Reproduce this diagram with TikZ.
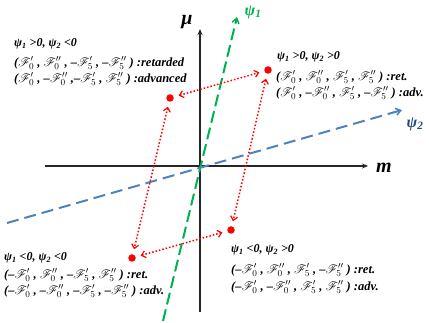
\documentclass[tikz,border=0pt]{standalone}
\usepackage{fontspec}
\setmainfont{Liberation Serif}
\usepackage{mathrsfs}
\usetikzlibrary{arrows.meta}
\definecolor{psigreen}{HTML}{00B050}
\definecolor{psiblue}{HTML}{4F81BD}
\definecolor{psidark}{HTML}{1F497D}
\newcommand\SF[2]{$\mathscr{F}^{#2}_{#1}$}
\tikzset{
  axisline/.style={line width=1.1pt, draw=black!85, -{Stealth[length=6pt,width=5pt]}},
  greenline/.style={line width=2pt, draw=psigreen, dash pattern=on 12pt off 5pt, -{Straight Barb[length=5pt,width=7pt,line width=1.5pt]}},
  blueline/.style={line width=2pt, draw=psiblue, dash pattern=on 12pt off 6pt, -{Straight Barb[length=5pt,width=7pt,line width=1.5pt]}},
  reddot/.style={circle, fill=red, inner sep=0pt, minimum size=7.5pt},
  redarrow/.style={line width=1.5pt, draw=red, dotted, {Straight Barb[length=4pt,width=7pt,line width=1.2pt]}-{Straight Barb[length=4pt,width=7pt,line width=1.2pt]}, shorten <=5pt, shorten >=5pt},
  txt/.style={anchor=west, inner sep=0pt, font=\fontsize{12.5}{14}\selectfont\bfseries\itshape},
  ttl/.style={anchor=west, inner sep=0pt, font=\fontsize{12}{14}\selectfont\bfseries\itshape},
}
\begin{document}
\begin{tikzpicture}[x=1pt,y=-1pt]
\useasboundingbox (0,0) rectangle (429,323);
% axes
\coordinate (xs) at (45,166);
\coordinate (xe) at (368,166);
\coordinate (ys) at (200,312);
\coordinate (ye) at (200,29);
\draw[axisline] (xs) -- (xe);
\draw[axisline] (ys) -- (ye);
\node[font=\fontsize{20}{22}\selectfont\bfseries\itshape] (mlab) at (384,168) {m};
\node[font=\fontsize{20}{22}\selectfont\bfseries\itshape] (mulab) at (187,22) {μ};
% psi lines
\coordinate (gs) at (163,321);
\coordinate (ge) at (237,17);
\draw[greenline] (gs) -- (ge);
\node[font=\fontsize{16}{18}\selectfont\bfseries\itshape, text=psigreen] (p1lab) at (253,12) {ψ\textsubscript{1}};
\coordinate (bs) at (7,223);
\coordinate (be) at (402,110);
\draw[blueline] (bs) -- (be);
\node[font=\fontsize{16}{18}\selectfont\bfseries\itshape, text=psidark] (p2lab) at (415,124) {ψ\textsubscript{2}};
% dots
\node[reddot] (tl) at (170,98) {};
\node[reddot] (tr) at (268,70) {};
\node[reddot] (bl) at (132,258) {};
\node[reddot] (br) at (231,230) {};
\draw[redarrow] (tl) -- (tr);
\draw[redarrow] (tl) -- (bl);
\draw[redarrow] (tr) -- (br);
\draw[redarrow] (bl) -- (br);
% text blocks
\node[ttl] (tlt) at (14,44) {ψ\textsubscript{1} >0, ψ\textsubscript{2} <0};
\node[txt] (tl1) at (14,63) {(\SF{0}{\prime} , \SF{0}{\prime\prime} , –\SF{5}{\prime} , –\SF{5}{\prime\prime} ) :retarded};
\node[txt] (tl2) at (14,79) {(\SF{0}{\prime} , –\SF{0}{\prime\prime} ,–\SF{5}{\prime} , \SF{5}{\prime\prime} ) :advanced};
\node[ttl] (trt) at (277,57) {ψ\textsubscript{1} >0, ψ\textsubscript{2} >0};
\node[txt] (tr1) at (276,77) {(\SF{0}{\prime} , \SF{0}{\prime\prime} , \SF{5}{\prime} , \SF{5}{\prime\prime} ) :ret.};
\node[txt] (tr2) at (276,93) {(\SF{0}{\prime} , –\SF{0}{\prime\prime} , \SF{5}{\prime} , –\SF{5}{\prime\prime} ) :adv.};
\node[ttl] (blt) at (4,258) {ψ\textsubscript{1} <0, ψ\textsubscript{2} <0};
\node[txt] (bl1) at (4,275) {(–\SF{0}{\prime} , \SF{0}{\prime\prime} , –\SF{5}{\prime} , \SF{5}{\prime\prime} ) :ret.};
\node[txt] (bl2) at (4,291) {(–\SF{0}{\prime} , –\SF{0}{\prime\prime} , –\SF{5}{\prime} , –\SF{5}{\prime\prime} ) :adv.};
\node[ttl] (brt) at (231,250) {ψ\textsubscript{1} <0, ψ\textsubscript{2} >0};
\node[txt] (br1) at (231,270) {(–\SF{0}{\prime} , \SF{0}{\prime\prime} , \SF{5}{\prime} , –\SF{5}{\prime\prime} ) :ret.};
\node[txt] (br2) at (231,287) {(–\SF{0}{\prime} , –\SF{0}{\prime\prime} , \SF{5}{\prime} , \SF{5}{\prime\prime} ) :adv.};
\end{tikzpicture}
\end{document}
